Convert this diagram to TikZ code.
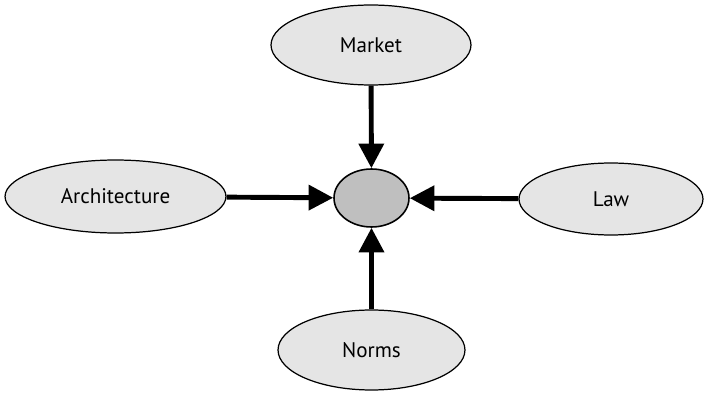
\documentclass[tikz,border=0pt]{standalone}
\usepackage{fontspec}
\setmainfont{PT Sans}
\usetikzlibrary{shapes.geometric,arrows.meta}

\begin{document}
\begin{tikzpicture}[x=0.02cm,y=0.02cm,
    force/.style={ellipse,draw,line width=0.7pt,fill=black!10,inner sep=0pt,font=\fontsize{12}{14}\selectfont},
    hub/.style={ellipse,draw,line width=0.9pt,fill=black!25,inner sep=0pt,minimum width=1.5cm,minimum height=1.16cm},
    flow/.style={line width=2.8pt,-{Triangle[length=14pt,width=14pt]}}]
    \useasboundingbox (0,0) rectangle (704,396);
    \node[hub] (hub) at (371.5,198) {};
    \node[force,minimum width=4cm,minimum height=1.6cm] (market) at (371,351) {Market};
    \node[force,minimum width=4.42cm,minimum height=1.46cm] (arch) at (115.5,199.5) {Architecture};
    \node[force,minimum width=3.68cm,minimum height=1.44cm] (law) at (611,197) {Law};
    \node[force,minimum width=3.74cm,minimum height=1.6cm] (norms) at (371.5,46) {Norms};
    \draw[flow] (market) -- (hub);
    \draw[flow] (arch) -- (hub);
    \draw[flow] (law) -- (hub);
    \draw[flow] (norms) -- (hub);
\end{tikzpicture}
\end{document}
